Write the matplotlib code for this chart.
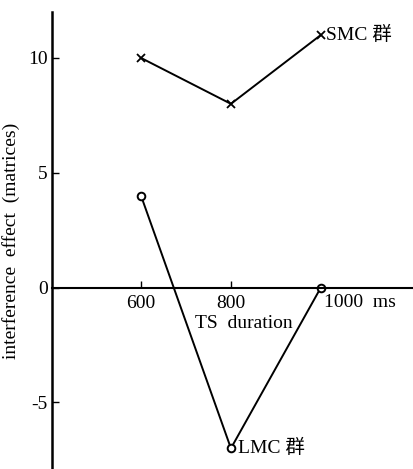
import matplotlib
matplotlib.use('Agg')
import matplotlib.pyplot as plt

plt.rcParams['font.family'] = ['Liberation Serif', 'Noto Sans CJK JP']

durations = [600, 800, 1000]
smc = [10, 8, 11]
lmc = [4, -7, 0]
xticks = [600, 800]
yticks = [-5, 0, 5, 10]

fig = plt.figure(figsize=(4.13, 4.69), dpi=100)
ax = fig.add_axes([52/413, 0.0, 1 - 52/413, 1 - 12/469])

ax.plot(durations, smc, color='black', lw=1.4, marker='x', ms=6, mew=1.3)
ax.plot(durations, lmc, color='black', lw=1.4, marker='o', ms=5.5, mew=1.4,
        markerfacecolor='white')

ax.set_xlim(402, 1205)
ax.set_ylim(-7.9, 12.0)

ax.spines['top'].set_visible(False)
ax.spines['right'].set_visible(False)
ax.spines['bottom'].set_position(('data', 0))
ax.spines['left'].set_linewidth(1.8)
ax.spines['bottom'].set_linewidth(1.5)

ax.set_xticks(xticks)
ax.set_xticklabels([str(t) for t in xticks])
ax.set_yticks(yticks)
ax.set_yticklabels(['-5', '0', '5', '10'])
ax.tick_params(axis='x', direction='in', length=5, width=1, labelsize=14, pad=5)
ax.tick_params(axis='y', direction='in', length=5, width=1, labelsize=14, pad=3)

ax.text(1006, -0.3, '1000  ms', ha='left', va='top', fontsize=14)
ax.text(828, -1.55, 'TS  duration', ha='center', va='center', fontsize=14)
ax.text(1012, 11, 'SMC 群', ha='left', va='center', fontsize=14)
ax.text(815, -7.0, 'LMC 群', ha='left', va='center', fontsize=14)

ax.set_ylabel('interference  effect  (matrices)', fontsize=14, labelpad=6)

fig.savefig('out.png', dpi=100)
